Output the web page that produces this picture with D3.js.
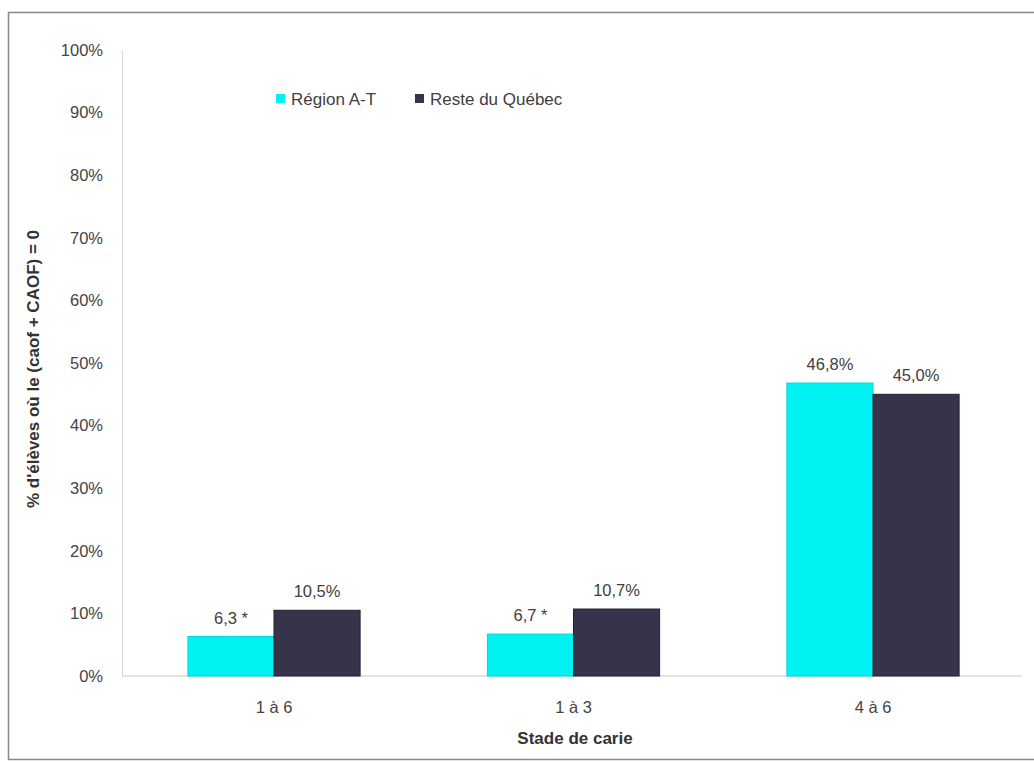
<!DOCTYPE html>
<html><head><meta charset="utf-8">
<script src="https://cdn.jsdelivr.net/npm/d3@7"></script>
<style>body{margin:0;background:#fff}svg{display:block}</style>
</head><body>
<svg id="c" width="1034" height="762"></svg>
<script>
const categories = ["1 à 6", "1 à 3", "4 à 6"];
const seriesNames = ["Région A-T", "Reste du Québec"];
const regionAT = [6.3, 6.7, 46.8];
const resteQc = [10.5, 10.7, 45.0];
const regionLabels = ["6,3 *", "6,7 *", "46,8%"];
const resteLabels = ["10,5%", "10,7%", "45,0%"];
const yTicks = [0,10,20,30,40,50,60,70,80,90,100];
const colors = ["#00f2f2", "#36334a"];

const svg = d3.select("#c");
const font = "Liberation Sans, Arial, sans-serif";
svg.append("rect").attr("x",8.5).attr("y",12.5).attr("width",1040).attr("height",747)
  .attr("fill","#fff").attr("stroke","#8a8a8a").attr("stroke-width",1.5);

const m = {l:122, r:1022, t:50, b:676};
const x = d3.scaleBand().domain(categories).range([m.l+3, m.r]).paddingInner(0.425).paddingOuter(0.21);
const xs = d3.scaleBand().domain(seriesNames).range([0, x.bandwidth()]);
const y = d3.scaleLinear().domain([0,100]).range([m.b, m.t]);

// y axis
const ya = svg.append("g").attr("transform",`translate(${m.l},0)`)
  .call(d3.axisLeft(y).tickValues(yTicks).tickSize(0).tickPadding(19).tickFormat(d=>d+"%"));
ya.select(".domain").attr("stroke","#d8d8d8");
ya.selectAll("text").attr("font-family",font).attr("font-size",16.5).attr("fill","#444");

// x axis
const xa = svg.append("g").attr("transform",`translate(0,${m.b})`)
  .call(d3.axisBottom(x).tickSize(0).tickPadding(25));
xa.select(".domain").attr("stroke","#c8c8c8").attr("d",`M${m.l},0H${m.r}`);
xa.selectAll("text").attr("font-family",font).attr("font-size",16.5).attr("fill","#444");

const data = categories.map((c,i)=>({c, vals:[{s:seriesNames[0],v:regionAT[i],l:regionLabels[i]},{s:seriesNames[1],v:resteQc[i],l:resteLabels[i]}]}));
const g = svg.selectAll(".grp").data(data).enter().append("g").attr("transform",d=>`translate(${x(d.c)},0)`);
g.selectAll("rect").data(d=>d.vals).enter().append("rect")
  .attr("x",d=>xs(d.s)).attr("width",xs.bandwidth())
  .attr("y",d=>y(d.v)).attr("height",d=>m.b-y(d.v))
  .attr("fill",(d,i)=>colors[i]).attr("stroke",(d,i)=>i?"#222230":"#00d8d8").attr("stroke-width",1);
g.selectAll("text").data(d=>d.vals).enter().append("text")
  .attr("x",d=>xs(d.s)+xs.bandwidth()/2).attr("y",d=>y(d.v)-13)
  .attr("text-anchor","middle").attr("font-family",font).attr("font-size",16.5).attr("fill","#404040")
  .text(d=>d.l);

// axis titles
svg.append("text").attr("transform",`translate(39,${(m.t+m.b)/2+6}) rotate(-90)`)
  .attr("text-anchor","middle").attr("font-family",font).attr("font-size",17).attr("font-weight","bold").attr("fill","#333")
  .text("% d'élèves où le (caof + CAOF) = 0");
svg.append("text").attr("x",(m.l+m.r)/2+3).attr("y",744)
  .attr("text-anchor","middle").attr("font-family",font).attr("font-size",17).attr("font-weight","bold").attr("fill","#333")
  .text("Stade de carie");

// legend
const lg = svg.append("g").attr("transform","translate(276,99)");
const items = lg.selectAll("g").data(seriesNames).enter().append("g").attr("transform",(d,i)=>`translate(${i*139},0)`);
items.append("rect").attr("x",0).attr("y",-5).attr("width",9).attr("height",9).attr("fill",(d,i)=>colors[i]);
items.append("text").attr("x",15).attr("y",6).attr("font-family",font).attr("font-size",17).attr("fill","#404040").text(d=>d);
</script>
</body></html>
